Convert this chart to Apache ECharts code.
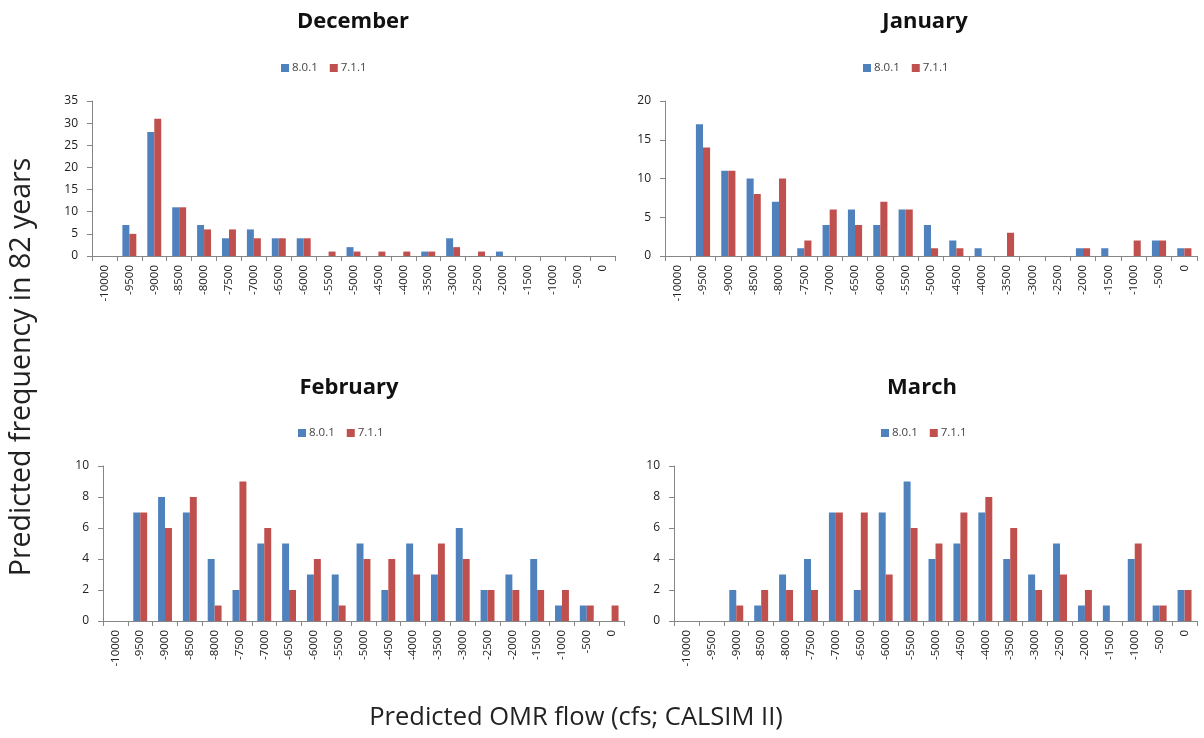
<!DOCTYPE html>
<html>
<head>
<meta charset="utf-8">
<script src="https://cdn.jsdelivr.net/npm/echarts@6/dist/echarts.min.js"></script>
<style>html,body{margin:0;padding:0;background:#fff}#c{width:1204px;height:738px}</style>
</head>
<body>
<div id="c"></div>
<script>
const categories = ['-10000','-9500','-9000','-8500','-8000','-7500','-7000','-6500','-6000','-5500','-5000','-4500','-4000','-3500','-3000','-2500','-2000','-1500','-1000','-500','0'];
const seriesNames = ['8.0.1', '7.1.1'];
const panelTitles = ['December', 'January', 'February', 'March'];
const decBlue = [0,7,28,11,7,4,6,4,4,0,2,0,0,1,4,0,1,0,0,0,0];
const decRed  = [0,5,31,11,6,6,4,4,4,1,1,1,1,1,2,1,0,0,0,0,0];
const janBlue = [0,17,11,10,7,1,4,6,4,6,4,2,1,0,0,0,1,1,0,2,1];
const janRed  = [0,14,11,8,10,2,6,4,7,6,1,1,0,3,0,0,1,0,2,2,1];
const febBlue = [0,7,8,7,4,2,5,5,3,3,5,2,5,3,6,2,3,4,1,1,0];
const febRed  = [0,7,6,8,1,9,6,2,4,1,4,4,3,5,4,2,2,2,2,1,1];
const marBlue = [0,0,2,1,3,4,7,2,7,9,4,5,7,4,3,5,1,1,4,1,2];
const marRed  = [0,0,1,2,2,2,7,7,3,6,5,7,8,6,2,3,2,0,5,1,2];
const yMax = [35, 20, 10, 10];
const yInterval = [5, 5, 2, 2];
const xAxisTitle = 'Predicted OMR flow (cfs; CALSIM II)';
const yAxisTitle = 'Predicted frequency in 82 years';

const panelData = [[decBlue, decRed], [janBlue, janRed], [febBlue, febRed], [marBlue, marRed]];
const FONT = "'Open Sans', 'Noto Sans', sans-serif";
const colors = ['#4F81BD', '#C0504D'];
const grids = [
  {left: 92, right: 589, top: 101, bottom: 482},
  {left: 665, right: 7, top: 101, bottom: 482},
  {left: 103, right: 580, top: 466, bottom: 117},
  {left: 674, right: 7, top: 466, bottom: 117}
];
const titlePos = [[348, 6], [920, 6], [344, 372], [917, 372]];
const legendCenter = [[321, 62], [903, 62], [338, 427], [921, 427]];

const chart = echarts.init(document.getElementById('c'), null, {renderer: 'canvas'});
const option = {
  backgroundColor: '#fff',
  animation: false,
  color: colors,
  title: panelTitles.map((t, i) => ({
    text: t, left: titlePos[i][0], top: titlePos[i][1], textAlign: 'center',
    textStyle: {fontFamily: FONT, fontWeight: 'bold', fontSize: 22, color: '#111'}
  })),
  legend: panelTitles.map((t, i) => ({
    data: seriesNames.map(n => ({name: n})),
    left: legendCenter[i][0] - 40, top: legendCenter[i][1], itemWidth: 8, itemHeight: 8, itemGap: 12,
    icon: 'rect', textStyle: {fontFamily: FONT, fontSize: 11.5, color: '#444', padding: [0, 0, 0, -2]},
    selectedMode: false, padding: 0
  })),
  grid: grids,
  xAxis: grids.map((g, i) => ({
    type: 'category', gridIndex: i, data: categories,
    axisLine: {lineStyle: {color: '#868686'}},
    axisTick: {show: true, alignWithLabel: false, length: 5, lineStyle: {color: '#868686'}},
    axisLabel: {interval: 0, rotate: 90, fontFamily: FONT, fontSize: 11.5, color: '#222', margin: 9}
  })),
  yAxis: grids.map((g, i) => ({
    type: 'value', gridIndex: i, min: 0, max: yMax[i], interval: yInterval[i],
    splitLine: {show: false},
    axisLine: {show: true, lineStyle: {color: '#868686'}},
    axisTick: {show: true, length: 5, lineStyle: {color: '#868686'}},
    axisLabel: {fontFamily: FONT, fontSize: 12, color: '#222', margin: 14}
  })),
  series: [],
  graphic: [
    {type: 'text', x: 576, y: 718, silent: true,
      style: {text: xAxisTitle, fontFamily: FONT, fontSize: 25.5, fill: '#222', align: 'center', verticalAlign: 'middle'}},
    {type: 'text', x: 22, y: 367, rotation: Math.PI / 2, silent: true,
      style: {text: yAxisTitle, fontFamily: FONT, fontSize: 28.5, fill: '#222', align: 'center', verticalAlign: 'middle'}}
  ]
};
panelData.forEach((pair, i) => {
  pair.forEach((vals, k) => {
    option.series.push({
      type: 'bar', name: seriesNames[k], xAxisIndex: i, yAxisIndex: i, data: vals,
      barGap: '0%', barCategoryGap: '44%',
      itemStyle: {color: colors[k]}
    });
  });
});
chart.setOption(option);
</script>
</body>
</html>
